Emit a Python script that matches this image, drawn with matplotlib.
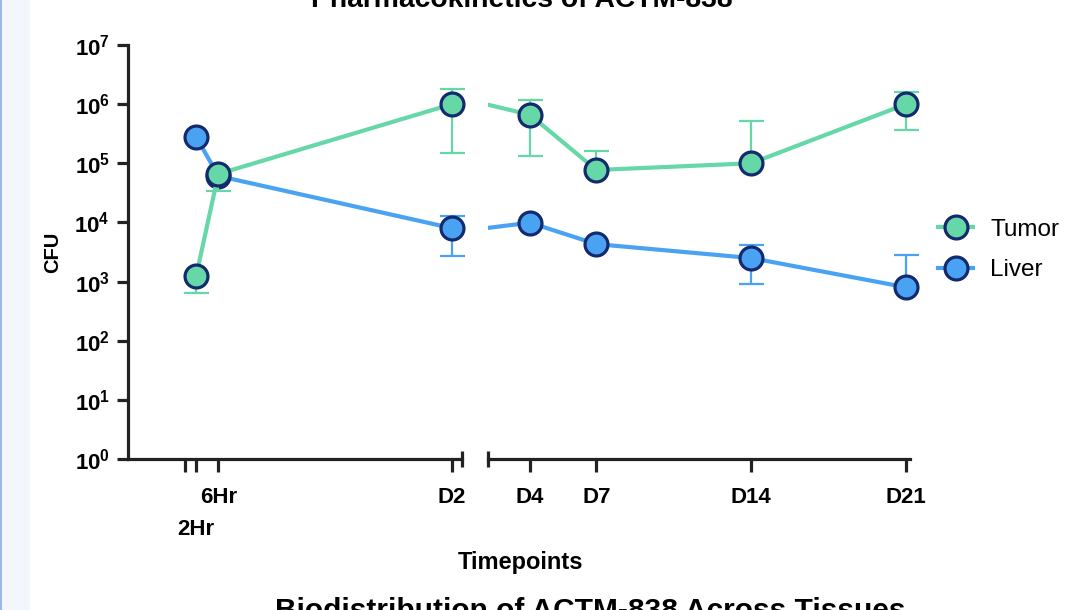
import matplotlib
matplotlib.use('Agg')
import matplotlib.pyplot as plt
from matplotlib.patches import Rectangle
from matplotlib.lines import Line2D
import numpy as np

plt.rcParams['font.family'] = ['Liberation Sans', 'DejaVu Sans']

# ---- data (x in days) ----
timepoints = [2/24, 6/24, 2, 4, 7, 14, 21]
tumor    = [1.24e3, 6.6e4, 1.0e6, 6.6e5, 7.7e4, 1.0e5, 1.0e6]
tumor_lo = [6.4e2, 3.4e4, 1.5e5, 1.33e5, 7.7e4, 1.0e5, 3.6e5]
tumor_hi = [1.24e3, 6.6e4, 1.8e6, 1.18e6, 1.63e5, 5.25e5, 1.6e6]
liver    = [2.8e5, 6.1e4, 8.0e3, 9.9e3, 4.3e3, 2.5e3, 8.0e2]
liver_lo = [2.8e5, 6.1e4, 2.74e3, 9.9e3, 4.3e3, 9.2e2, 8.0e2]
liver_hi = [2.8e5, 6.1e4, 1.3e4, 9.9e3, 4.3e3, 4.2e3, 2.8e3]

left_ticks = [0, 2/24, 6/24, 2]
left_labels = ['', '2Hr', '6Hr', 'D2']
right_ticks = [4, 7, 14, 21]
right_labels = ['D4', 'D7', 'D14', 'D21']
ytick_vals = [10.0**k for k in range(0, 8)]
ytick_labels = [r'$\mathregular{10^{%d}}$' % k for k in range(0, 8)]

TUMOR_C = '#66d8a7'
LIVER_C = '#4aa3f2'
EDGE_C = '#142a6e'
AX_C = '#222222'

W, H = 1067, 610
fig = plt.figure(figsize=(W/100, H/100), dpi=100)

# page background strip on the left
fig.patches.append(Rectangle((0, 0), 30/W, 1, transform=fig.transFigure,
                             facecolor='#f3f6fb', edgecolor='none', zorder=0))
fig.patches.append(Rectangle((0, 0), 2/W, 1, transform=fig.transFigure,
                             facecolor='#9ab8ea', edgecolor='none', zorder=0))

def px_rect(x0, x1, y_top, y_bot):
    return [x0/W, 1 - y_bot/H, (x1 - x0)/W, (y_bot - y_top)/H]

ax1 = fig.add_axes(px_rect(128, 462, 45, 459))
ax2 = fig.add_axes(px_rect(488, 910, 45, 459), sharey=ax1)
for a in (ax1, ax2):
    a.patch.set_alpha(0)

ax1.set_xlim(-0.427, 2.075)
ax2.set_xlim(2.101, 21.18)
ax1.set_yscale('log')
ax1.set_ylim(1, 1e7)

series = [
    ('Liver', liver, liver_lo, liver_hi, LIVER_C, 3),
    ('Tumor', tumor, tumor_lo, tumor_hi, TUMOR_C, 4),
]
x = np.array(timepoints)
for ax in (ax1, ax2):
    xl, xr = ax.get_xlim()
    for name, vals, lo, hi, col, z in series:
        v = np.array(vals)
        yerr = [v - np.array(lo), np.array(hi) - v]
        ax.plot(x, v, color=col, lw=3, zorder=z, solid_capstyle='butt')
        m = (x >= xl) & (x <= xr)
        eb = ax.errorbar(x[m], v[m], yerr=[yerr[0][m], yerr[1][m]], fmt='none',
                         ecolor=col, elinewidth=1.6, capsize=9, capthick=1.6,
                         zorder=z - 0.5)
        for c in eb.get_children():
            c.set_clip_on(False)
        ax.plot(x[m], v[m], linestyle='none', marker='o', ms=16.5,
                mfc=col, mec=EDGE_C, mew=2.3, zorder=z + 0.2, clip_on=False)

# spines
for a in (ax1, ax2):
    a.spines['top'].set_visible(False)
    a.spines['right'].set_visible(False)
    a.spines['bottom'].set_color(AX_C)
    a.spines['bottom'].set_linewidth(2.3)
ax1.spines['left'].set_color(AX_C)
ax1.spines['left'].set_linewidth(2.3)
ax2.spines['left'].set_visible(False)

# y ticks
ax1.set_yticks(ytick_vals)
ax1.set_yticklabels(ytick_labels)
ax1.yaxis.set_minor_locator(matplotlib.ticker.NullLocator())
ax1.tick_params(axis='y', which='major', length=8, width=2.3, color=AX_C,
                labelsize=16, pad=5)
for t in ax1.get_yticklabels():
    t.set_fontweight('bold')
ax2.tick_params(axis='y', which='both', left=False, labelleft=False)

# x ticks
ax1.set_xticks(left_ticks)
ax1.set_xticklabels(left_labels)
ax2.set_xticks(right_ticks)
ax2.set_xticklabels(right_labels)
for a in (ax1, ax2):
    a.xaxis.set_minor_locator(matplotlib.ticker.NullLocator())
    a.tick_params(axis='x', which='major', length=9, width=2.3, color=AX_C,
                  labelsize=16, pad=11)
    for t in a.get_xticklabels():
        t.set_fontweight('bold')
ax1.xaxis.get_major_ticks()[1].set_pad(34)

# break caps
cap = 8 / 414
ax1.plot([1, 1], [-cap, cap], transform=ax1.transAxes, color=AX_C, lw=2.3,
         clip_on=False, solid_capstyle='butt')
ax2.plot([0, 0], [-cap, cap], transform=ax2.transAxes, color=AX_C, lw=2.3,
         clip_on=False, solid_capstyle='butt')

# axis labels
ax1.set_ylabel('CFU', fontsize=14.5, fontweight='bold')
ax1.yaxis.set_label_coords(-0.198, 0.5)
fig.text(520/W, 1 - 562/H, 'Timepoints', ha='center', va='center',
         fontsize=17, fontweight='bold')

# titles (cut off by the page, as in the reference)
fig.text(522/W, 1 - 7/H, 'Pharmacokinetics of ACTM-838', ha='center',
         va='baseline', fontsize=20.3, fontweight='bold')
fig.text(590/W, 1 - 619/H, 'Biodistribution of ACTM-838 Across Tissues',
         ha='center', va='baseline', fontsize=21.5, fontweight='bold')

# legend
leg_handles = [
    Line2D([], [], color=TUMOR_C, lw=3, marker='o', ms=16.5, mfc=TUMOR_C,
           mec=EDGE_C, mew=2.3),
    Line2D([], [], color=LIVER_C, lw=3, marker='o', ms=16.5, mfc=LIVER_C,
           mec=EDGE_C, mew=2.3),
]
fig.legend(leg_handles, ['Tumor', 'Liver'], loc='center left',
           bbox_to_anchor=(938/W, 1 - 250/H), frameon=False, fontsize=17.5,
           handlelength=1.45, handletextpad=0.7, labelspacing=0.75,
           borderpad=0, borderaxespad=0)

fig.savefig('out.png', dpi=100)
